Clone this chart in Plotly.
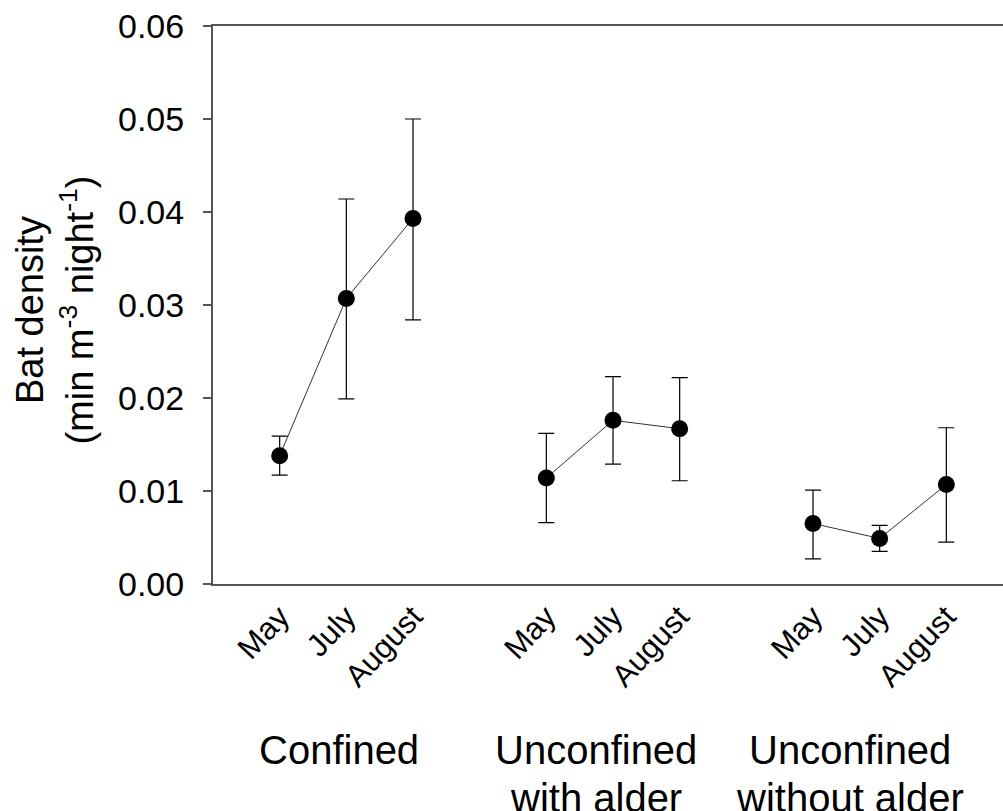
import plotly.graph_objects as go

months = ["May", "July", "August"]
groups = ["Confined", "Unconfined<br>with alder", "Unconfined<br>without alder"]
x_pos = [[1, 2, 3], [5, 6, 7], [9, 10, 11]]

means = [
    [0.0138, 0.0307, 0.0393],
    [0.0114, 0.0176, 0.0167],
    [0.0065, 0.0049, 0.0107],
]
upper = [
    [0.0159, 0.0414, 0.0500],
    [0.0162, 0.0223, 0.0222],
    [0.0101, 0.0063, 0.0168],
]
lower = [
    [0.0117, 0.0199, 0.0284],
    [0.0066, 0.0129, 0.0111],
    [0.0027, 0.0035, 0.0045],
]

fig = go.Figure()
for xs, m, u, l in zip(x_pos, means, upper, lower):
    fig.add_trace(go.Scatter(
        x=xs, y=m, mode="lines+markers",
        line=dict(color="#333333", width=1),
        marker=dict(color="black", size=17),
        error_y=dict(type="data", symmetric=False,
                     array=[a - b for a, b in zip(u, m)],
                     arrayminus=[b - c for b, c in zip(m, l)],
                     color="black", thickness=1.2, width=8),
        showlegend=False,
    ))

tickvals = [v for xs in x_pos for v in xs]
ticktext = months * 3

fig.update_layout(
    width=1003, height=811,
    margin=dict(l=213, r=0, t=26, b=227),
    paper_bgcolor="white", plot_bgcolor="white",
    font=dict(family="Liberation Sans, Arial, sans-serif", color="black"),
    xaxis=dict(range=[0, 11.85], tickvals=tickvals, ticktext=ticktext,
               tickangle=-47, ticks="", showgrid=False, zeroline=False,
               showline=True, mirror=True, linecolor="#555555", linewidth=2,
               tickfont=dict(size=31)),
    yaxis=dict(range=[0, 0.06], dtick=0.01, tickformat=".2f",
               ticks="outside", ticklen=8, tickcolor="#555555", tickwidth=1.5,
               ticklabelstandoff=12,
               showgrid=False, zeroline=False, showline=True,
               linecolor="#555555", linewidth=2, tickfont=dict(size=34)),
)

fig.add_annotation(
    text="Bat density<br>(min m<sup>-3</sup> night<sup>-1</sup>)",
    xref="paper", yref="paper", x=-0.2, y=0.49, textangle=-90,
    xanchor="center", yanchor="middle",
    showarrow=False, font=dict(size=38), align="center",
)

group_x = [1.89, 5.75, 9.55]
line_y = [-0.2545, -0.3405]
for gx, g in zip(group_x, groups):
    for ly, part in zip(line_y, g.split("<br>")):
        fig.add_annotation(
            text=part, xref="x", yref="paper", x=gx, y=ly, yanchor="top",
            showarrow=False, font=dict(size=40), align="center",
        )

fig.write_html("out.html")
